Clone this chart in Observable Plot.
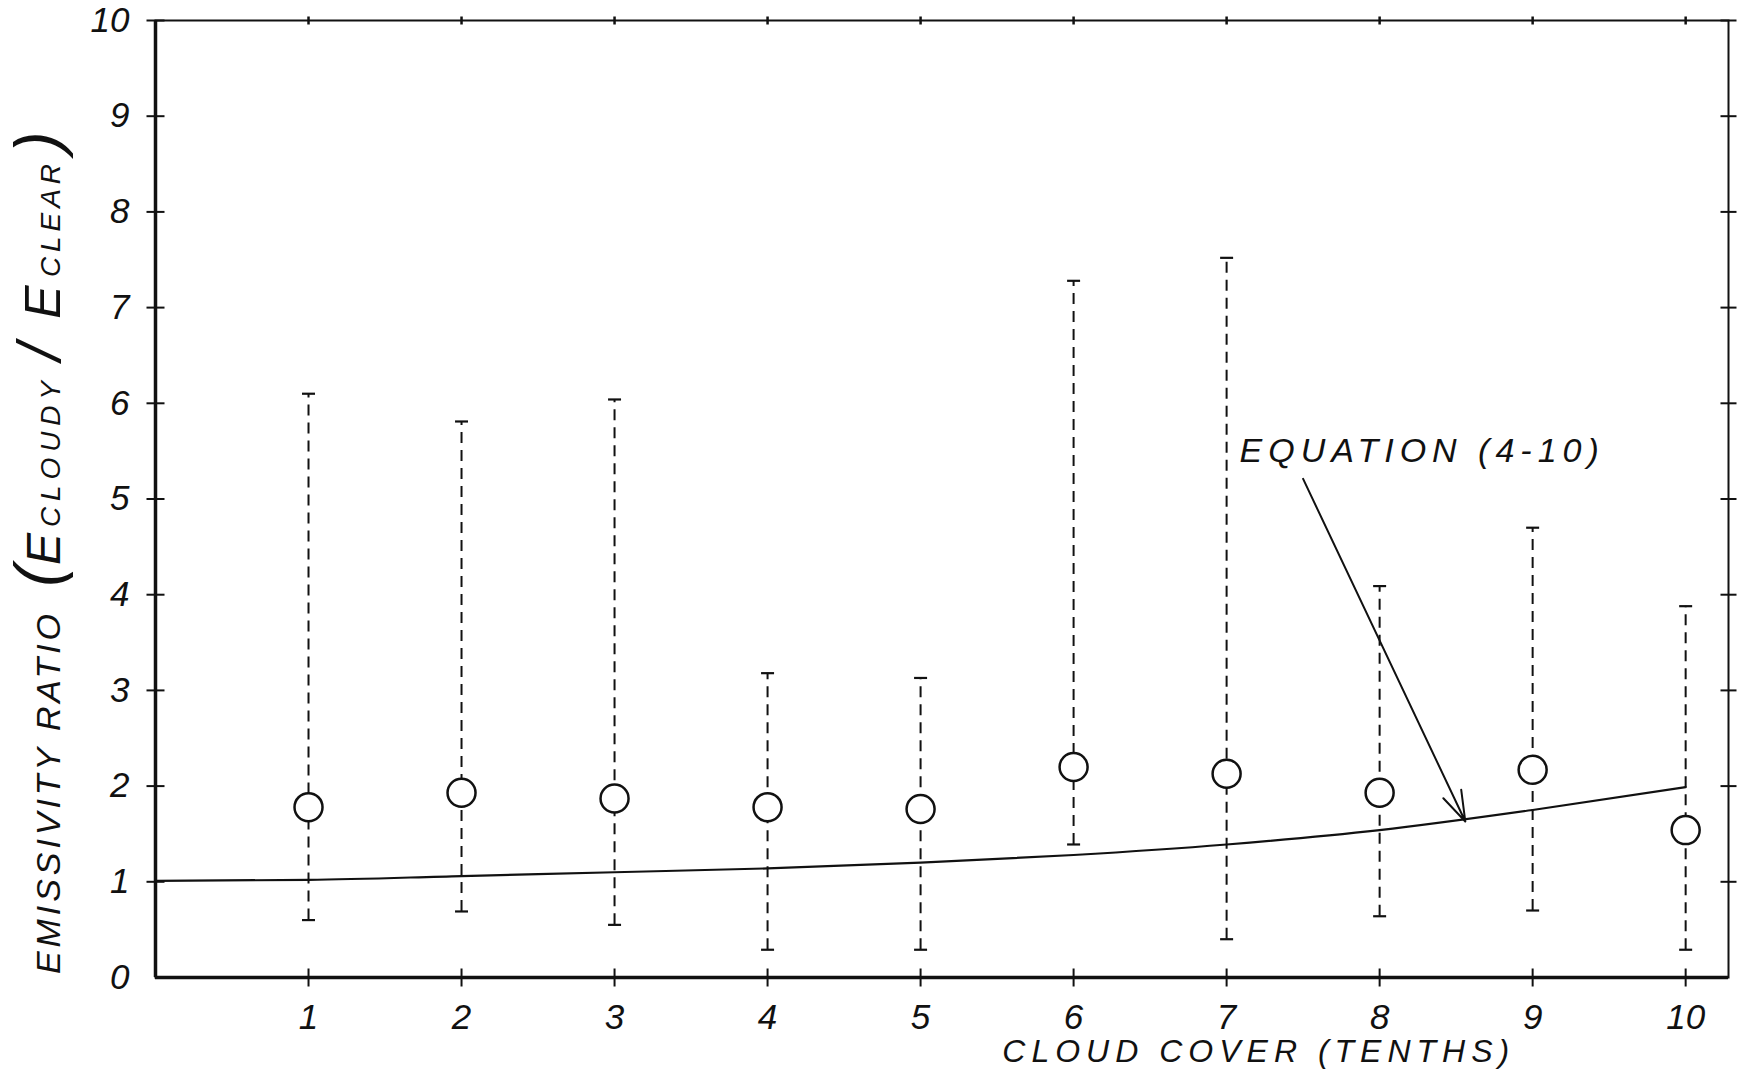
<!DOCTYPE html>
<html>
<head>
<meta charset="utf-8">
<script src="https://cdn.jsdelivr.net/npm/d3@7"></script>
<script src="https://cdn.jsdelivr.net/npm/@observablehq/plot@0.6"></script>
<style>
  html, body { margin: 0; padding: 0; background: #fff; }
  #chart svg { display: block; font-family: "Liberation Sans", Arial, sans-serif; }
  .eq text { letter-spacing: 6px; }
  .xlab text { letter-spacing: 6px; }
</style>
</head>
<body>
<div id="chart"></div>
<script>
// ---- data ----
const cloudCover = [1, 2, 3, 4, 5, 6, 7, 8, 9, 10];
const meanRatio  = [1.78, 1.93, 1.87, 1.78, 1.76, 2.20, 2.13, 1.93, 2.17, 1.54];
const upperRatio = [6.10, 5.81, 6.04, 3.18, 3.13, 7.28, 7.52, 4.09, 4.70, 3.88];
const lowerRatio = [0.60, 0.69, 0.55, 0.29, 0.29, 1.39, 0.40, 0.64, 0.70, 0.29];

// Equation (4-10) curve, read at integer cloud cover
const curveCover = [0, 1, 2, 3, 4, 5, 6, 7, 8, 9, 10];
const curveRatio = [1.01, 1.02, 1.06, 1.10, 1.14, 1.20, 1.28, 1.39, 1.54, 1.75, 1.99];

const xTicks = [1, 2, 3, 4, 5, 6, 7, 8, 9, 10];
const yTicks = [0, 1, 2, 3, 4, 5, 6, 7, 8, 9, 10];
const xTickLabels = ["1", "2", "3", "4", "5", "6", "7", "8", "9", "10"];
const yTickLabels = ["0", "1", "2", "3", "4", "5", "6", "7", "8", "9", "10"];

const xLabel = "CLOUD COVER (TENTHS)";
const eqLabel = "EQUATION (4-10)";
// annotation anchor (label position and arrow from/to, in data units)
const eqText = [{x: 7.085, y: 5.50}];
const eqArrow = [{x1: 7.50, y1: 5.21, x2: 8.56, y2: 1.63}];
const xLabelPos = [{x: 7.21}];

const xDomain = [0, 10.28];
const yDomain = [0, 10];

// ---- table built from the arrays ----
const points = cloudCover.map((c, i) => ({c, mean: meanRatio[i], hi: upperRatio[i], lo: lowerRatio[i]}));
const curve = curveCover.map((c, i) => ({c, r: curveRatio[i]}));

// custom symbols: horizontal and vertical strokes
const hLine = {draw(ctx, size) { const r = Math.sqrt(size / Math.PI); ctx.moveTo(-r, 0); ctx.lineTo(r, 0); }};
const vLine = {draw(ctx, size) { const r = Math.sqrt(size / Math.PI); ctx.moveTo(0, -r); ctx.lineTo(0, r); }};

const font = "Liberation Sans, Arial, sans-serif";

const chart = Plot.plot({
  width: 1747,
  height: 1082,
  marginLeft: 155,
  marginRight: 19,
  marginTop: 20,
  marginBottom: 105,
  style: {background: "#fff", color: "#111", fontFamily: font},
  x: {domain: xDomain, axis: null},
  y: {domain: yDomain, axis: null},
  marks: [
    // frame (top & right thinner), bottom & left thicker
    Plot.frame({stroke: "#111", strokeWidth: 2}),
    Plot.ruleX([xDomain[0]], {stroke: "#111", strokeWidth: 3.5}),
    Plot.ruleY([yDomain[0]], {stroke: "#111", strokeWidth: 3.5}),
    // ticks crossing the left and right axes
    Plot.dot(yTicks.slice(1), {x: xDomain[0], y: d => d, symbol: hLine, r: 9, stroke: "#111", strokeWidth: 2, fill: "none"}),
    Plot.dot(yTicks.slice(1), {x: xDomain[1], y: d => d, symbol: hLine, r: 8, stroke: "#111", strokeWidth: 2, fill: "none"}),
    // ticks crossing the bottom and top axes
    Plot.dot(xTicks, {x: d => d, y: yDomain[0], symbol: vLine, r: 9, stroke: "#111", strokeWidth: 2, fill: "none"}),
    Plot.dot(xTicks, {x: d => d, y: yDomain[1], symbol: vLine, r: 4, stroke: "#111", strokeWidth: 2.5, fill: "none"}),
    // tick labels
    Plot.text(yTicks, {x: xDomain[0], y: d => d, text: (d, i) => yTickLabels[i], dx: -26, textAnchor: "end", fontSize: 35, fontStyle: "italic", fill: "#111"}),
    Plot.text(xTicks, {x: d => d, y: yDomain[0], text: (d, i) => xTickLabels[i], dy: 40, fontSize: 35, fontStyle: "italic", fill: "#111"}),
    // error bars (dashed) with caps
    Plot.ruleX(points, {x: "c", y1: "lo", y2: "hi", stroke: "#111", strokeWidth: 2, strokeDasharray: "11,7"}),
    Plot.dot(points, {x: "c", y: "hi", symbol: hLine, r: 6.5, stroke: "#111", strokeWidth: 2.2, fill: "none"}),
    Plot.dot(points, {x: "c", y: "lo", symbol: hLine, r: 6.5, stroke: "#111", strokeWidth: 2.2, fill: "none"}),
    // equation curve
    Plot.line(curve, {x: "c", y: "r", curve: "monotone-x", stroke: "#111", strokeWidth: 2.2}),
    // mean points
    Plot.dot(points, {x: "c", y: "mean", r: 14, fill: "#fff", stroke: "#111", strokeWidth: 2.5}),
    // annotation
    Plot.arrow(eqArrow, {x1: "x1", y1: "y1", x2: "x2", y2: "y2", stroke: "#111", strokeWidth: 2, headLength: 24, headAngle: 36, insetEnd: 0}),
    Plot.text(eqText, {x: "x", y: "y", text: () => eqLabel, textAnchor: "start", fontSize: 34, fontStyle: "italic", fill: "#111", className: "eq"}),
    // x axis title
    Plot.text(xLabelPos, {x: "x", y: yDomain[0], text: () => xLabel, dy: 74, fontSize: 32, fontStyle: "italic", fill: "#111", className: "xlab"})
  ]
});

document.getElementById("chart").appendChild(chart);

// y-axis title: "EMISSIVITY RATIO (E CLOUDY / E CLEAR)" with small lettering after each E
const svg = d3.select(chart);
const yTitle = svg.append("g")
  .attr("fill", "#111")
  .style("font-family", font)
  .style("font-style", "italic");
// [text, font size, anchor, position along the axis (px from top), fitted length or null]
const titleParts = [
  ["EMISSIVITY RATIO", 34, "start", 974, 360],
  ["(", 64, "middle", 576, null],
  ["E", 48, "middle", 549, null],
  ["CLOUDY", 28, "start", 527, 146],
  ["/", 62, "middle", 352, null],
  ["E", 50, "middle", 302, null],
  ["CLEAR", 28, "start", 277, 113],
  [")", 64, "middle", 142, null]
];
titleParts.forEach(([t, s, a, pos, len]) => {
  const el = yTitle.append("text")
    .attr("transform", `translate(60,${pos}) rotate(-90)`)
    .attr("font-size", s)
    .attr("text-anchor", a)
    .text(t);
  if (len) el.attr("textLength", len).attr("lengthAdjust", "spacing");
});
</script>
</body>
</html>
